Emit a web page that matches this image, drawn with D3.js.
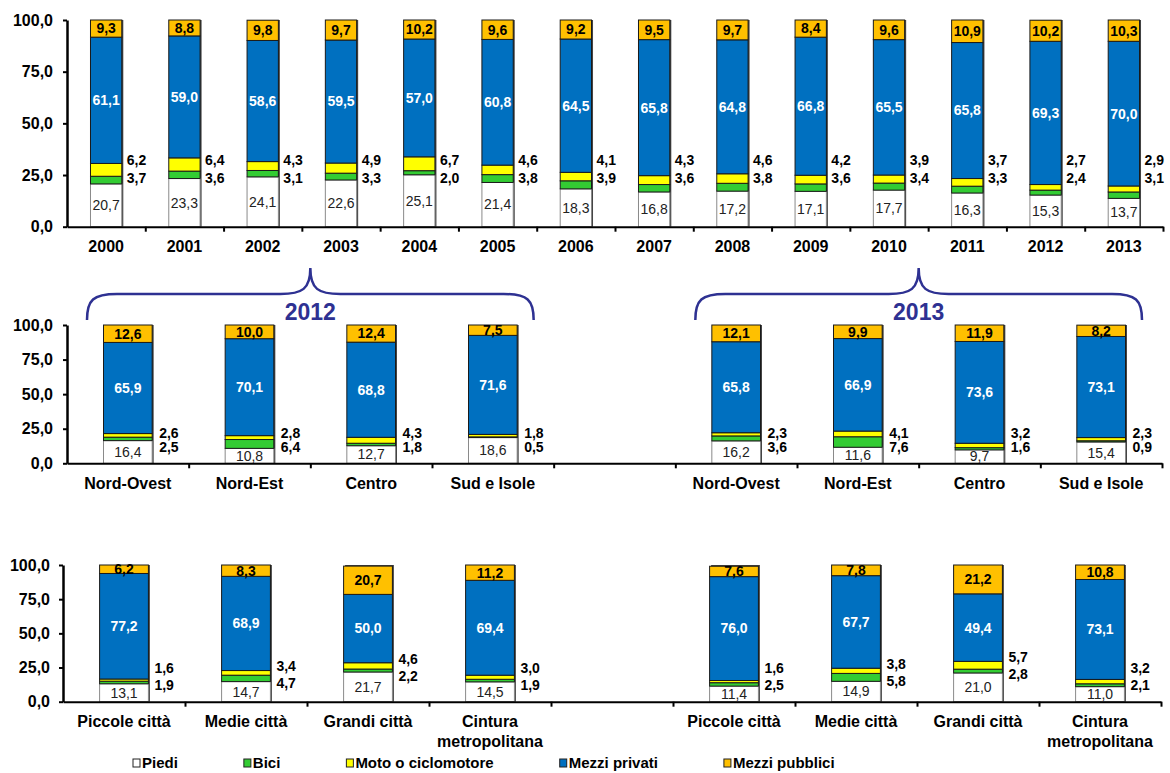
<!DOCTYPE html>
<html>
<head>
<meta charset="utf-8">
<script src="https://cdn.jsdelivr.net/npm/d3@7"></script>
<style>
  body { margin: 0; background: #fff; }
  svg text { font-family: "Liberation Sans", Arial, sans-serif; }
</style>
</head>
<body>
<svg id="chart" width="1170" height="773"></svg>
<script>
var seriesNames = ['Piedi', 'Bici', 'Moto o ciclomotore', 'Mezzi privati', 'Mezzi pubblici'];
var seriesColors = ['#ffffff', '#33cc33', '#ffff00', '#0070c0', '#ffc000'];
var yTicks = [0, 25, 50, 75, 100];

// serie storica
var years = ['2000', '2001', '2002', '2003', '2004', '2005', '2006', '2007', '2008', '2009', '2010', '2011', '2012', '2013'];
var yearPiedi    = [20.7, 23.3, 24.1, 22.6, 25.1, 21.4, 18.3, 16.8, 17.2, 17.1, 17.7, 16.3, 15.3, 13.7];
var yearBici     = [3.7, 3.6, 3.1, 3.3, 2.0, 3.8, 3.9, 3.6, 3.8, 3.6, 3.4, 3.3, 2.4, 3.1];
var yearMoto     = [6.2, 6.4, 4.3, 4.9, 6.7, 4.6, 4.1, 4.3, 4.6, 4.2, 3.9, 3.7, 2.7, 2.9];
var yearPrivati  = [61.1, 59.0, 58.6, 59.5, 57.0, 60.8, 64.5, 65.8, 64.8, 66.8, 65.5, 65.8, 69.3, 70.0];
var yearPubblici = [9.3, 8.8, 9.8, 9.7, 10.2, 9.6, 9.2, 9.5, 9.7, 8.4, 9.6, 10.9, 10.2, 10.3];

// ripartizioni, 2012 | 2013
var groupYears = ['2012', '2013'];
var areaNames    = ['Nord-Ovest', 'Nord-Est', 'Centro', 'Sud e Isole', '', 'Nord-Ovest', 'Nord-Est', 'Centro', 'Sud e Isole'];
var areaPiedi    = [16.4, 10.8, 12.7, 18.6, null, 16.2, 11.6, 9.7, 15.4];
var areaBici     = [2.5, 6.4, 1.8, 0.5, null, 3.6, 7.6, 1.6, 0.9];
var areaMoto     = [2.6, 2.8, 4.3, 1.8, null, 2.3, 4.1, 3.2, 2.3];
var areaPrivati  = [65.9, 70.1, 68.8, 71.6, null, 65.8, 66.9, 73.6, 73.1];
var areaPubblici = [12.6, 10.0, 12.4, 7.5, null, 12.1, 9.9, 11.9, 8.2];

// tipo di comune, 2012 | 2013
var townNames    = ['Piccole città', 'Medie città', 'Grandi città', 'Cintura metropolitana', '',
                    'Piccole città', 'Medie città', 'Grandi città', 'Cintura metropolitana'];
var townPiedi    = [13.1, 14.7, 21.7, 14.5, null, 11.4, 14.9, 21.0, 11.0];
var townBici     = [1.9, 4.7, 2.2, 1.9, null, 2.5, 5.8, 2.8, 2.1];
var townMoto     = [1.6, 3.4, 4.6, 3.0, null, 1.6, 3.8, 5.7, 3.2];
var townPrivati  = [77.2, 68.9, 50.0, 69.4, null, 76.0, 67.7, 49.4, 73.1];
var townPubblici = [6.2, 8.3, 20.7, 11.2, null, 7.6, 7.8, 21.2, 10.8];

var it = d3.formatLocale({ decimal: ',', thousands: '.', grouping: [3], currency: ['', ' €'] });
var fmt = it.format('.1f');
var svg = d3.select('#chart');
var braceColor = '#2e3192';

function panel(opt) {
  var n = opt.cats.length;
  var g = svg.append('g');
  var x = d3.scaleBand().domain(d3.range(n)).range([opt.x0, opt.x1]).paddingInner(0.6).paddingOuter(0.3);
  var xEdge = d3.scaleLinear().domain([0, n]).range([opt.x0, opt.x1]);
  var y = d3.scaleLinear().domain([0, 100]).range([opt.yBot, opt.yTop]);
  var bw = x.bandwidth();

  var rows = opt.cats.map(function(c, i) {
    var r = { i: i };
    seriesNames.forEach(function(k, j) { r[k] = opt.series[j][i]; });
    return r;
  }).filter(function(r) { return r[seriesNames[0]] != null; });
  var stacked = d3.stack().keys(seriesNames)(rows);
  var top = function(v) { return Math.min(v, 100); };

  // ombra a destra delle barre
  g.append('g').selectAll('rect').data(rows).join('rect')
    .attr('x', function(d) { return x(d.i) + 1.5; })
    .attr('y', y(100))
    .attr('width', bw)
    .attr('height', function(d) { return opt.yBot - y(100); })
    .attr('fill', '#444');

  g.append('g').selectAll('g').data(stacked).join('g')
    .attr('fill', function(d, i) { return seriesColors[i]; })
    .attr('stroke', function(d, i) { return i === 0 ? '#8a8a8a' : '#1a1a1a'; })
    .attr('stroke-width', 1)
    .selectAll('rect').data(function(d) { return d; }).join('rect')
    .attr('x', function(d) { return x(d.data.i); })
    .attr('y', function(d) { return y(top(d[1])); })
    .attr('width', bw)
    .attr('height', function(d) { return y(d[0]) - y(top(d[1])); });

  // assi
  var ya = g.append('g').attr('transform', 'translate(' + opt.x0 + ',0)')
    .call(d3.axisLeft(y).tickValues(yTicks).tickFormat(fmt).tickSize(4).tickSizeOuter(0).tickPadding(opt.tickPad));
  ya.select('.domain').attr('stroke', '#000').attr('stroke-width', 2.5);
  ya.selectAll('.tick line').attr('stroke', '#000').attr('stroke-width', 2);
  ya.selectAll('.tick text').attr('font-size', 16).attr('font-weight', 'bold').attr('fill', '#000')
    .attr('font-family', '"Liberation Sans", Arial, sans-serif');

  var xa = g.append('g').attr('transform', 'translate(0,' + opt.yBot + ')')
    .call(d3.axisBottom(xEdge).tickValues(d3.range(1, n + 1)).tickFormat('').tickSize(5).tickSizeOuter(0));
  xa.select('.domain').attr('stroke', '#000').attr('stroke-width', 2);
  xa.selectAll('.tick line').attr('stroke', '#000').attr('stroke-width', 2);

  var xl = g.append('g').attr('transform', 'translate(0,' + opt.yBot + ')')
    .call(d3.axisBottom(x).tickSize(0).tickPadding(14).tickFormat(function(i) { return opt.cats[i]; }));
  xl.select('.domain').remove();
  xl.selectAll('.tick text').attr('font-size', 16).attr('font-weight', 'bold').attr('fill', '#000')
    .attr('font-family', '"Liberation Sans", Arial, sans-serif')
    .each(function() {
      var t = d3.select(this);
      if (this.getComputedTextLength() > x.step() * 0.95) {
        var words = t.text().split(' ');
        t.text(null);
        words.forEach(function(w, k) {
          t.append('tspan').attr('x', 0).attr('dy', k ? '1.25em' : null).text(w);
        });
      }
    });

  // etichette valori
  var lab = g.append('g').attr('font-size', 14);
  var piedi = stacked[0], moto = stacked[2], priv = stacked[3], pubb = stacked[4];

  lab.selectAll('text.piedi').data(piedi).join('text').attr('class', 'piedi')
    .attr('x', function(d) { return x(d.data.i) + bw / 2; })
    .attr('y', function(d) { return y((d[0] + d[1]) / 2); })
    .attr('dy', '0.35em').attr('text-anchor', 'middle').attr('fill', '#222')
    .text(function(d) { return fmt(d[1] - d[0]); });

  lab.selectAll('text.priv').data(priv).join('text').attr('class', 'priv')
    .attr('x', function(d) { return x(d.data.i) + bw / 2; })
    .attr('y', function(d) { return y((d[0] + top(d[1])) / 2); })
    .attr('dy', '0.35em').attr('text-anchor', 'middle').attr('fill', '#fff')
    .attr('font-weight', 'bold').attr('font-size', 14)
    .text(function(d) { return fmt(d.data[seriesNames[3]]); });

  lab.selectAll('text.pubb').data(pubb).join('text').attr('class', 'pubb')
    .attr('x', function(d) { return x(d.data.i) + bw / 2; })
    .attr('y', function(d) { return y((d[0] + top(d[1])) / 2); })
    .attr('dy', '0.35em').attr('text-anchor', 'middle').attr('fill', '#000')
    .attr('font-weight', 'bold')
    .text(function(d) { return fmt(d.data[seriesNames[4]]); });

  var motoY = function(d) {
    var base = y(opt.labelVal);
    return opt.lift ? Math.min(base, y(d[1] + 3)) : base;
  };
  lab.selectAll('text.moto').data(moto).join('text').attr('class', 'moto')
    .attr('x', function(d) { return x(d.data.i) + bw + opt.labelDx; })
    .attr('y', motoY)
    .attr('dy', '0.35em').attr('fill', '#000').attr('font-weight', 'bold')
    .text(function(d) { return fmt(d.data[seriesNames[2]]); });

  lab.selectAll('text.bici').data(moto).join('text').attr('class', 'bici')
    .attr('x', function(d) { return x(d.data.i) + bw + opt.labelDx; })
    .attr('y', function(d) { return motoY(d) + opt.labelGap; })
    .attr('dy', '0.35em').attr('fill', '#000').attr('font-weight', 'bold')
    .text(function(d) { return fmt(d.data[seriesNames[1]]); });

  return { x: x, xEdge: xEdge, y: y };
}

panel({
  cats: years, series: [yearPiedi, yearBici, yearMoto, yearPrivati, yearPubblici],
  x0: 67, x1: 1163, yTop: 20, yBot: 226.7, tickPad: 10,
  labelVal: 32.3, labelGap: 18, labelDx: 5, lift: false
});

var mid = panel({
  cats: areaNames, series: [areaPiedi, areaBici, areaMoto, areaPrivati, areaPubblici],
  x0: 67, x1: 1162, yTop: 325, yBot: 463.3, tickPad: 10,
  labelVal: 21.9, labelGap: 14, labelDx: 7, lift: false
});

panel({
  cats: townNames, series: [townPiedi, townBici, townMoto, townPrivati, townPubblici],
  x0: 63, x1: 1161, yTop: 565, yBot: 701.7, tickPad: 9,
  labelVal: 24.6, labelGap: 17, labelDx: 6, lift: true
});

// parentesi graffe sopra le ripartizioni
function bracePath(xa, xb, yb, yh, yt) {
  var xm = (xa + xb) / 2;
  return 'M' + xa + ',' + yb +
    'C' + xa + ',' + (yh + 6) + ' ' + (xa + 6) + ',' + yh + ' ' + (xa + 30) + ',' + yh +
    'L' + (xm - 30) + ',' + yh +
    'C' + (xm - 8) + ',' + yh + ' ' + xm + ',' + (yh - 5) + ' ' + xm + ',' + yt +
    'C' + xm + ',' + (yh - 5) + ' ' + (xm + 8) + ',' + yh + ' ' + (xm + 30) + ',' + yh +
    'L' + (xb - 30) + ',' + yh +
    'C' + (xb - 6) + ',' + yh + ' ' + xb + ',' + (yh + 6) + ' ' + xb + ',' + yb;
}

var braces = svg.append('g');
groupYears.forEach(function(yr, k) {
  var xa = mid.xEdge(k * 5) + 20;
  var xb = mid.xEdge(k * 5 + 4) - 20;
  braces.append('path')
    .attr('d', bracePath(xa, xb, 320, 294, 268))
    .attr('fill', 'none').attr('stroke', braceColor).attr('stroke-width', 2.5);
  braces.append('text')
    .attr('x', (xa + xb) / 2).attr('y', 312).attr('dy', '0.35em')
    .attr('text-anchor', 'middle').attr('font-size', 23).attr('font-weight', 'bold')
    .attr('fill', braceColor).text(yr);
});

// legenda
var legend = svg.append('g').attr('transform', 'translate(0,763)');
var lx = 133;
seriesNames.forEach(function(name, i) {
  var item = legend.append('g').attr('transform', 'translate(' + lx + ',0)');
  item.append('rect').attr('x', 0).attr('y', -4).attr('width', 7).attr('height', 8)
    .attr('fill', seriesColors[i]).attr('stroke', '#222').attr('stroke-width', 1);
  var t = item.append('text').attr('x', 9).attr('dy', '0.35em')
    .attr('font-size', 15).attr('font-weight', 'bold').attr('fill', '#000').text(name);
  lx += 9 + t.node().getComputedTextLength() + 66;
});
</script>
</body>
</html>
